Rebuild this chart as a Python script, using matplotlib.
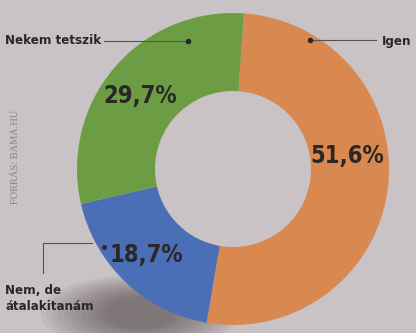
import matplotlib.pyplot as plt
from matplotlib import font_manager as fm
from matplotlib.patches import Ellipse

# survey answers, clockwise from the top
labels = ["Igen", "Nem, de\nátalakitanám", "Nekem tetszik"]
shares = [51.6, 18.7, 29.7]
pct_text = ["51,6%", "18,7%", "29,7%"]
colors = ["#d9884f", "#4b6fb6", "#6c9d45"]

BG = "#c9c3c5"
INK = "#2b2726"


def narrow_bold():
    # prefer a condensed bold face if one is installed
    for key in ("LiberationSansNarrow-Bold", "DejaVuSansCondensed-Bold",
                "RobotoCondensed-Bold", "Roboto-Bold"):
        for f in fm.fontManager.ttflist:
            if key.lower() in f.fname.lower().replace(" ", ""):
                return f.fname
    return None


fpath = narrow_bold()


def fp(size):
    if fpath:
        return fm.FontProperties(fname=fpath, size=size)
    return fm.FontProperties(family="DejaVu Sans", weight="bold", size=size)


fig = plt.figure(figsize=(4.16, 3.33), dpi=100, facecolor=BG)
ax = fig.add_axes([0, 0, 1, 1])
ax.set_facecolor(BG)

cx, cy, R = 233, 164, 156

# soft shadow under the ring
for i in range(12):
    ax.add_patch(Ellipse((140, 20), 200 - i * 12, 76 - i * 4,
                         color="#3a3030", alpha=0.055, lw=0, zorder=0))

ax.pie(shares, colors=colors, startangle=86, counterclock=False,
       center=(cx, cy), radius=R, frame=True,
       wedgeprops=dict(width=78, linewidth=0))
ax.set_xlim(0, 416)
ax.set_ylim(0, 333)
ax.set_aspect("equal")
ax.axis("off")

# percentage labels inside the ring
ax.text(347, 177, pct_text[0], fontproperties=fp(17), color=INK,
        ha="center", va="center")
ax.text(146, 78, pct_text[1], fontproperties=fp(17), color=INK,
        ha="center", va="center")
ax.text(140, 237, pct_text[2], fontproperties=fp(17), color=INK,
        ha="center", va="center")

# leaders and category names
lc = "#5a5252"
ax.plot([310, 376], [293, 293], color=lc, lw=0.8)
ax.plot([310], [293], "o", color=INK, ms=3)
ax.text(411, 292, labels[0], fontproperties=fp(9.5), color=INK,
        ha="right", va="center")

ax.plot([104, 188], [292, 292], color=lc, lw=0.8)
ax.plot([188], [292], "o", color=INK, ms=3)
ax.text(5, 292, labels[2], fontproperties=fp(9.5), color=INK,
        ha="left", va="center")

ax.plot([43, 43, 92], [60, 90, 90], color=lc, lw=0.8)
ax.plot([104], [86], "o", color=INK, ms=2.5)
ax.text(5, 34, labels[1], fontproperties=fp(9.5), color=INK,
        ha="left", va="center", linespacing=1.3)

ax.text(16, 176, "FORRÁS: BAMA.HU", fontsize=7.5, color="#8b8484",
        family=["Liberation Serif", "DejaVu Serif"], rotation=90,
        ha="center", va="center")

fig.savefig("out.png", dpi=100, facecolor=BG)
